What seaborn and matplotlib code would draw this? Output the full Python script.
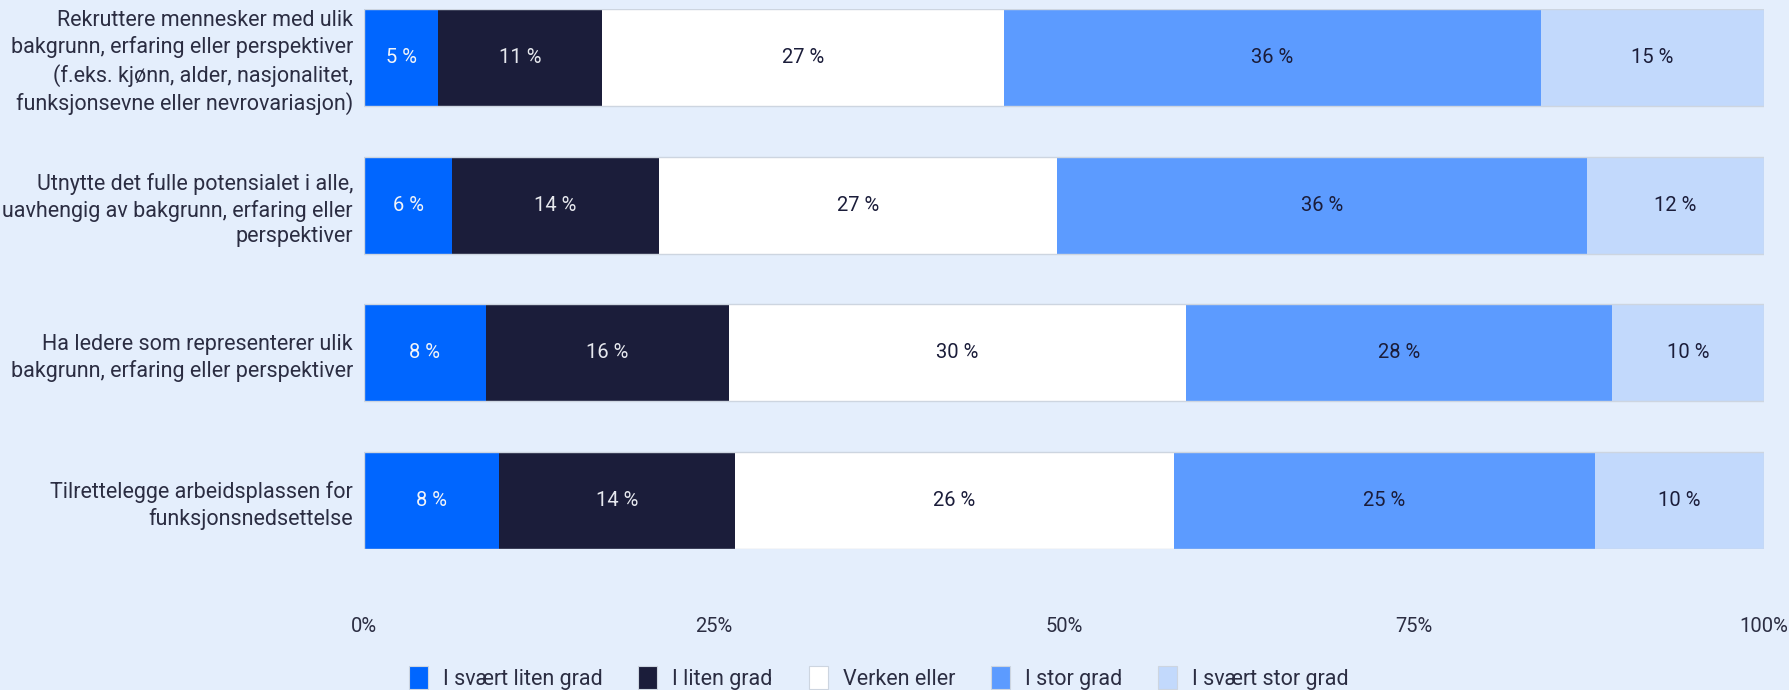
import numpy as np
import pandas as pd
import matplotlib
matplotlib.use("Agg")
import matplotlib.pyplot as plt
import seaborn as sns
from matplotlib.patches import Patch

# data
questions = [
    "Rekruttere mennesker med ulik\nbakgrunn, erfaring eller perspektiver\n(f.eks. kjønn, alder, nasjonalitet,\nfunksjonsevne eller nevrovariasjon)",
    "Utnytte det fulle potensialet i alle,\nuavhengig av bakgrunn, erfaring eller\nperspektiver",
    "Ha ledere som representerer ulik\nbakgrunn, erfaring eller perspektiver",
    "Tilrettelegge arbeidsplassen for\nfunksjonsnedsettelse",
]
categories = ["I svært liten grad", "I liten grad", "Verken eller", "I stor grad", "I svært stor grad"]
svaert_liten = [5, 6, 8, 8]
liten = [11, 14, 16, 14]
verken = [27, 27, 30, 26]
stor = [36, 36, 28, 25]
svaert_stor = [15, 12, 10, 10]
xticks = [0, 25, 50, 75, 100]

colors = ["#0066FF", "#1B1D3A", "#FFFFFF", "#5C9BFF", "#C2D9FC"]
text_colors = ["#F2F4F8", "#E6E8EE", "#1B1D3A", "#1B1D3A", "#1B1D3A"]
bg = "#E4EEFC"
edge = "#CDD5E0"
txt = "#2B2D42"

values = np.array([svaert_liten, liten, verken, stor, svaert_stor], dtype=float)
# bars show share of those who answered (row sums below 100 are rescaled)
shares = values / values.sum(axis=0) * 100
cum = np.cumsum(shares, axis=0)

df = pd.DataFrame({"question": np.tile(questions, len(categories)),
                   "category": np.repeat(categories, len(questions)),
                   "value": values.ravel(),
                   "share": shares.ravel(),
                   "cum": cum.ravel()})

sns.set_theme(style="white")
plt.rcParams["font.family"] = ["Roboto", "DejaVu Sans"]

fig = plt.figure(figsize=(17.9, 6.9), dpi=100, facecolor=bg)
ax = fig.add_axes([364 / 1790, 1 - 549 / 690, 1400 / 1790, 540 / 690])
ax.set_facecolor(bg)

# stacked bars: draw cumulative totals from the widest down
for i in range(len(categories) - 1, -1, -1):
    sub = df[df["category"] == categories[i]]
    sns.barplot(data=sub, x="cum", y="question", order=questions, color=colors[i],
                width=0.655, linewidth=0, saturation=1, ax=ax, zorder=2)

# thin outline around each full bar
sub = df[df["category"] == categories[-1]]
sns.barplot(data=sub, x="cum", y="question", order=questions, color=edge, fill=False,
            width=0.655, linewidth=1.0, saturation=1, ax=ax, zorder=2.5)

for i, cat in enumerate(categories):
    sub = df[df["category"] == cat].reset_index(drop=True)
    for j, row in sub.iterrows():
        xc = row["cum"] - row["share"] / 2
        ax.text(xc, j, f"{int(row['value'])} %", ha="center", va="center",
                fontsize=14.5, color=text_colors[i], zorder=3)

ax.set_xlim(0, 100)
ax.set_ylim(len(questions) - 1 + 0.3275, -0.3275)
ax.set_xticks(xticks)
ax.set_xticklabels([f"{t}%" for t in xticks])
ax.tick_params(axis="x", length=0, pad=49, labelsize=14.5, labelcolor=txt)
ax.tick_params(axis="y", length=0, pad=8, labelsize=15.5, labelcolor=txt)
for lab in ax.get_yticklabels():
    lab.set_linespacing(1.3)
ax.set_xlabel("")
ax.set_ylabel("")
for s in ax.spines.values():
    s.set_visible(False)

handles = [Patch(facecolor=c, edgecolor=edge, linewidth=0.8) for c in colors]
fig.legend(handles, categories, loc="center", bbox_to_anchor=(0.491, 1 - 678 / 690),
           ncol=5, frameon=False, fontsize=15.5, handlelength=0.88, handleheight=1.3,
           columnspacing=1.67, handletextpad=0.7, labelcolor=txt)

fig.savefig("out.png", dpi=100, facecolor=bg)
